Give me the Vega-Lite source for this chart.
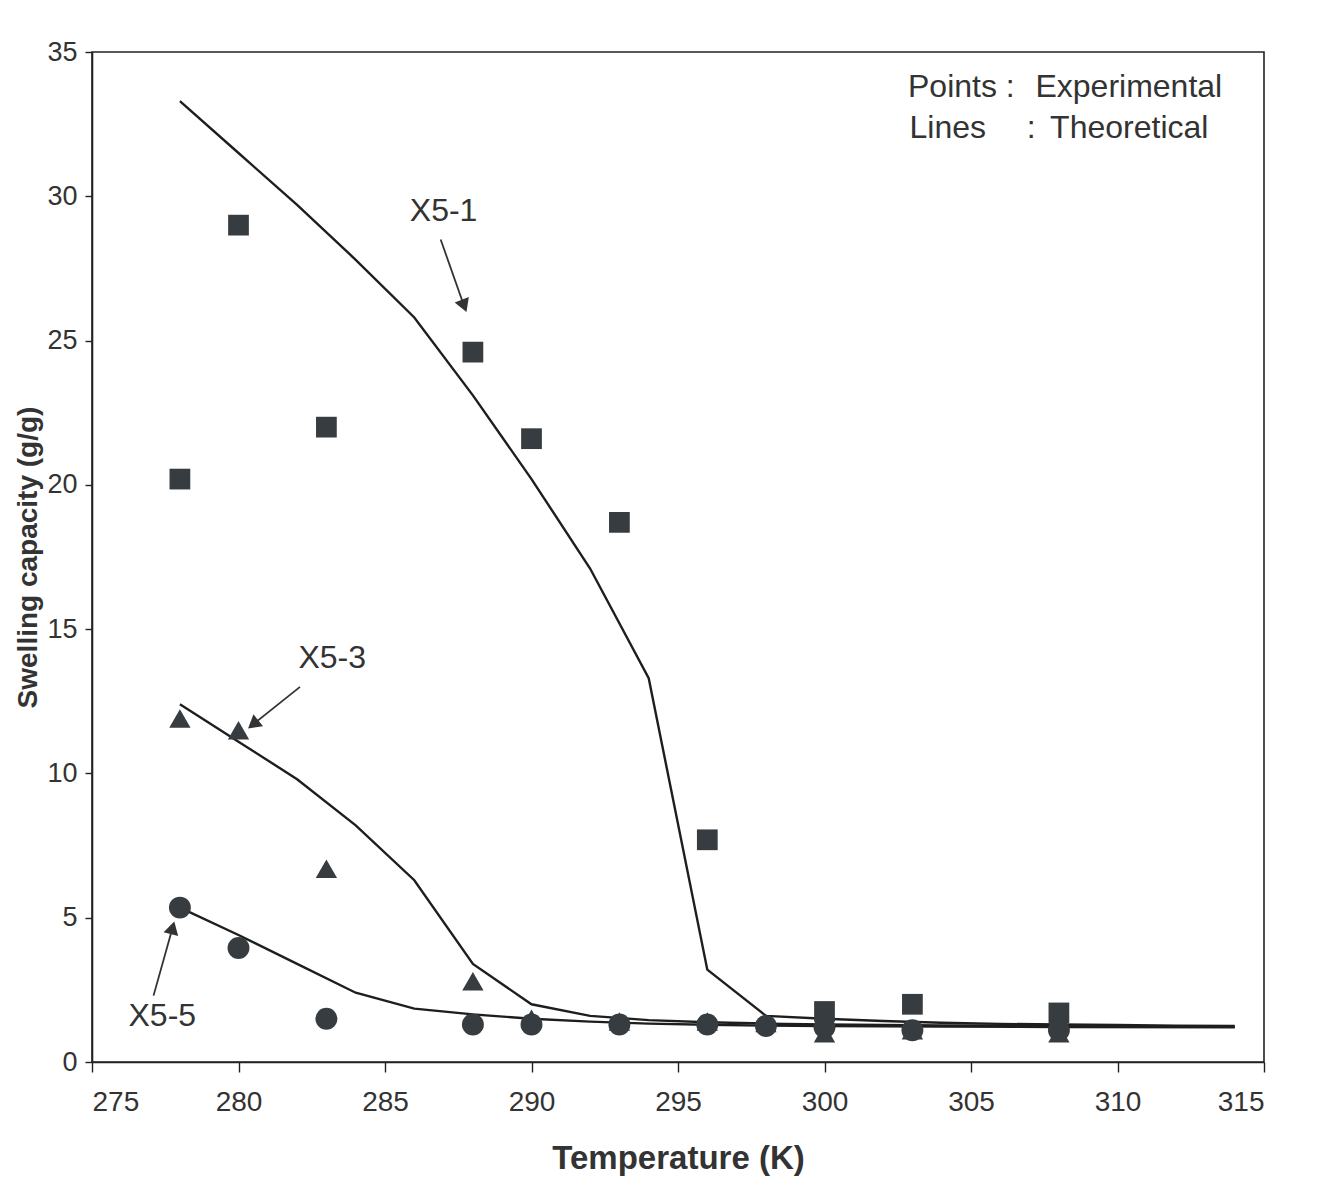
{
  "$schema": "https://vega.github.io/schema/vega-lite/v6.json",
  "width": 1172,
  "height": 1010,
  "autosize": {"type": "none"},
  "padding": {"left": 92, "top": 52, "right": 58, "bottom": 127},
  "background": "white",
  "config": {
    "font": "Liberation Sans, Arial",
    "view": {"stroke": "#222222", "strokeWidth": 1.6},
    "axis": {
      "domainColor": "#222222", "domainWidth": 1.6,
      "tickColor": "#222222", "tickWidth": 1.4,
      "labelColor": "#333333", "titleColor": "#333333",
      "grid": false
    }
  },
  "datasets": {
    "points": [
      {"series": "X5-1", "T": 278, "S": 20.2},
      {"series": "X5-1", "T": 280, "S": 29.0},
      {"series": "X5-1", "T": 283, "S": 22.0},
      {"series": "X5-1", "T": 288, "S": 24.6},
      {"series": "X5-1", "T": 290, "S": 21.6},
      {"series": "X5-1", "T": 293, "S": 18.7},
      {"series": "X5-1", "T": 296, "S": 7.7},
      {"series": "X5-1", "T": 300, "S": 1.75},
      {"series": "X5-1", "T": 303, "S": 2.0},
      {"series": "X5-1", "T": 308, "S": 1.7},
      {"series": "X5-3", "T": 278, "S": 11.9},
      {"series": "X5-3", "T": 280, "S": 11.5},
      {"series": "X5-3", "T": 283, "S": 6.7},
      {"series": "X5-3", "T": 288, "S": 2.8},
      {"series": "X5-3", "T": 290, "S": 1.5},
      {"series": "X5-3", "T": 293, "S": 1.4},
      {"series": "X5-3", "T": 296, "S": 1.4},
      {"series": "X5-3", "T": 298, "S": 1.35},
      {"series": "X5-3", "T": 300, "S": 1.0},
      {"series": "X5-3", "T": 303, "S": 1.1},
      {"series": "X5-3", "T": 308, "S": 1.0},
      {"series": "X5-5", "T": 278, "S": 5.35},
      {"series": "X5-5", "T": 280, "S": 3.95},
      {"series": "X5-5", "T": 283, "S": 1.5},
      {"series": "X5-5", "T": 288, "S": 1.3},
      {"series": "X5-5", "T": 290, "S": 1.3},
      {"series": "X5-5", "T": 293, "S": 1.3},
      {"series": "X5-5", "T": 296, "S": 1.3},
      {"series": "X5-5", "T": 298, "S": 1.25},
      {"series": "X5-5", "T": 300, "S": 1.2},
      {"series": "X5-5", "T": 303, "S": 1.1},
      {"series": "X5-5", "T": 308, "S": 1.1}
    ],
    "lines": [
      {"series": "X5-1", "T": 278, "S": 33.3},
      {"series": "X5-1", "T": 280, "S": 31.5},
      {"series": "X5-1", "T": 282, "S": 29.7},
      {"series": "X5-1", "T": 284, "S": 27.8},
      {"series": "X5-1", "T": 286, "S": 25.8},
      {"series": "X5-1", "T": 288, "S": 23.1},
      {"series": "X5-1", "T": 290, "S": 20.2},
      {"series": "X5-1", "T": 292, "S": 17.1},
      {"series": "X5-1", "T": 294, "S": 13.3},
      {"series": "X5-1", "T": 296, "S": 3.2},
      {"series": "X5-1", "T": 298, "S": 1.6},
      {"series": "X5-1", "T": 300, "S": 1.5},
      {"series": "X5-1", "T": 302, "S": 1.42},
      {"series": "X5-1", "T": 304, "S": 1.36},
      {"series": "X5-1", "T": 306, "S": 1.32},
      {"series": "X5-1", "T": 308, "S": 1.3},
      {"series": "X5-1", "T": 310, "S": 1.28},
      {"series": "X5-1", "T": 312, "S": 1.26},
      {"series": "X5-1", "T": 314, "S": 1.25},
      {"series": "X5-3", "T": 278, "S": 12.4},
      {"series": "X5-3", "T": 280, "S": 11.1},
      {"series": "X5-3", "T": 282, "S": 9.8},
      {"series": "X5-3", "T": 284, "S": 8.2},
      {"series": "X5-3", "T": 286, "S": 6.3},
      {"series": "X5-3", "T": 288, "S": 3.4},
      {"series": "X5-3", "T": 290, "S": 2.0},
      {"series": "X5-3", "T": 292, "S": 1.6},
      {"series": "X5-3", "T": 294, "S": 1.45},
      {"series": "X5-3", "T": 296, "S": 1.38},
      {"series": "X5-3", "T": 298, "S": 1.33},
      {"series": "X5-3", "T": 300, "S": 1.3},
      {"series": "X5-3", "T": 304, "S": 1.27},
      {"series": "X5-3", "T": 308, "S": 1.25},
      {"series": "X5-3", "T": 314, "S": 1.22},
      {"series": "X5-5", "T": 278, "S": 5.35},
      {"series": "X5-5", "T": 280, "S": 4.4},
      {"series": "X5-5", "T": 282, "S": 3.4},
      {"series": "X5-5", "T": 284, "S": 2.4},
      {"series": "X5-5", "T": 286, "S": 1.85},
      {"series": "X5-5", "T": 288, "S": 1.65},
      {"series": "X5-5", "T": 290, "S": 1.5},
      {"series": "X5-5", "T": 292, "S": 1.4},
      {"series": "X5-5", "T": 294, "S": 1.33},
      {"series": "X5-5", "T": 296, "S": 1.29},
      {"series": "X5-5", "T": 298, "S": 1.26},
      {"series": "X5-5", "T": 300, "S": 1.25},
      {"series": "X5-5", "T": 304, "S": 1.23},
      {"series": "X5-5", "T": 308, "S": 1.21},
      {"series": "X5-5", "T": 314, "S": 1.2}
    ],
    "arrows": [
      {"series": "X5-1", "T": 286.9, "S": 28.5, "T2": 287.7, "S2": 26.2},
      {"series": "X5-3", "T": 282.1, "S": 13.0, "T2": 280.5, "S2": 11.7},
      {"series": "X5-5", "T": 277.1, "S": 2.3, "T2": 277.75, "S2": 4.65}
    ],
    "labels": [
      {"text": "X5-1", "T": 287.0, "S": 29.5},
      {"text": "X5-3", "T": 283.2, "S": 14.0},
      {"text": "X5-5", "T": 277.4, "S": 1.6}
    ],
    "note": [
      {"text": "Points :", "T": 302.85, "S": 33.8},
      {"text": "Experimental", "T": 307.2, "S": 33.8},
      {"text": "Lines", "T": 302.9, "S": 32.35},
      {"text": ":", "T": 306.9, "S": 32.35},
      {"text": "Theoretical", "T": 307.7, "S": 32.35}
    ]
  },
  "encoding": {
    "x": {
      "field": "T", "type": "quantitative",
      "scale": {"domain": [275, 315], "nice": false, "zero": false},
      "axis": {
        "values": [275, 280, 285, 290, 295, 300, 305, 310, 315],
        "tickSize": 10, "labelFontSize": 28, "labelPadding": 16,
        "title": "Temperature (K)", "titleFontSize": 33, "titleFontWeight": "bold",
        "titlePadding": 26
      }
    },
    "y": {
      "field": "S", "type": "quantitative",
      "scale": {"domain": [0, 35], "nice": false},
      "axis": {
        "values": [0, 5, 10, 15, 20, 25, 30, 35],
        "tickSize": 7, "labelFontSize": 27, "labelPadding": 8,
        "title": "Swelling capacity (g/g)", "titleFontSize": 28, "titleFontWeight": "bold",
        "titlePadding": 4
      }
    }
  },
  "layer": [
    {
      "data": {"name": "lines"},
      "mark": {"type": "line", "color": "#1e1e1e", "strokeWidth": 2.4},
      "encoding": {"detail": {"field": "series"}}
    },
    {
      "data": {"name": "points"},
      "mark": {"type": "point", "filled": true, "opacity": 1, "color": "#363c3f"},
      "encoding": {
        "shape": {"field": "series", "type": "nominal",
          "scale": {"domain": ["X5-1", "X5-3", "X5-5"], "range": ["square", "triangle-up", "circle"]},
          "legend": null},
        "size": {"field": "series", "type": "nominal",
          "scale": {"domain": ["X5-1", "X5-3", "X5-5"], "range": [430, 480, 400]},
          "legend": null}
      }
    },
    {
      "data": {"name": "arrows"},
      "mark": {"type": "rule", "color": "#333333", "strokeWidth": 1.8},
      "encoding": {"x2": {"field": "T2"}, "y2": {"field": "S2"}}
    },
    {
      "data": {"name": "arrows"},
      "transform": [{"filter": "datum.series === 'X5-1'"}],
      "mark": {"type": "point", "shape": "triangle-up", "filled": true, "opacity": 1, "color": "#333333", "size": 230, "angle": 159},
      "encoding": {"x": {"field": "T2", "type": "quantitative"}, "y": {"field": "S2", "type": "quantitative"}}
    },
    {
      "data": {"name": "arrows"},
      "transform": [{"filter": "datum.series === 'X5-3'"}],
      "mark": {"type": "point", "shape": "triangle-up", "filled": true, "opacity": 1, "color": "#333333", "size": 230, "angle": 231},
      "encoding": {"x": {"field": "T2", "type": "quantitative"}, "y": {"field": "S2", "type": "quantitative"}}
    },
    {
      "data": {"name": "arrows"},
      "transform": [{"filter": "datum.series === 'X5-5'"}],
      "mark": {"type": "point", "shape": "triangle-up", "filled": true, "opacity": 1, "color": "#333333", "size": 230, "angle": 15},
      "encoding": {"x": {"field": "T2", "type": "quantitative"}, "y": {"field": "S2", "type": "quantitative"}}
    },
    {
      "data": {"name": "labels"},
      "mark": {"type": "text", "fontSize": 32, "color": "#333333", "align": "center", "baseline": "middle"},
      "encoding": {"text": {"field": "text"}}
    },
    {
      "data": {"name": "note"},
      "mark": {"type": "text", "fontSize": 32, "color": "#333333", "align": "left", "baseline": "middle"},
      "encoding": {"text": {"field": "text"}}
    }
  ]
}
